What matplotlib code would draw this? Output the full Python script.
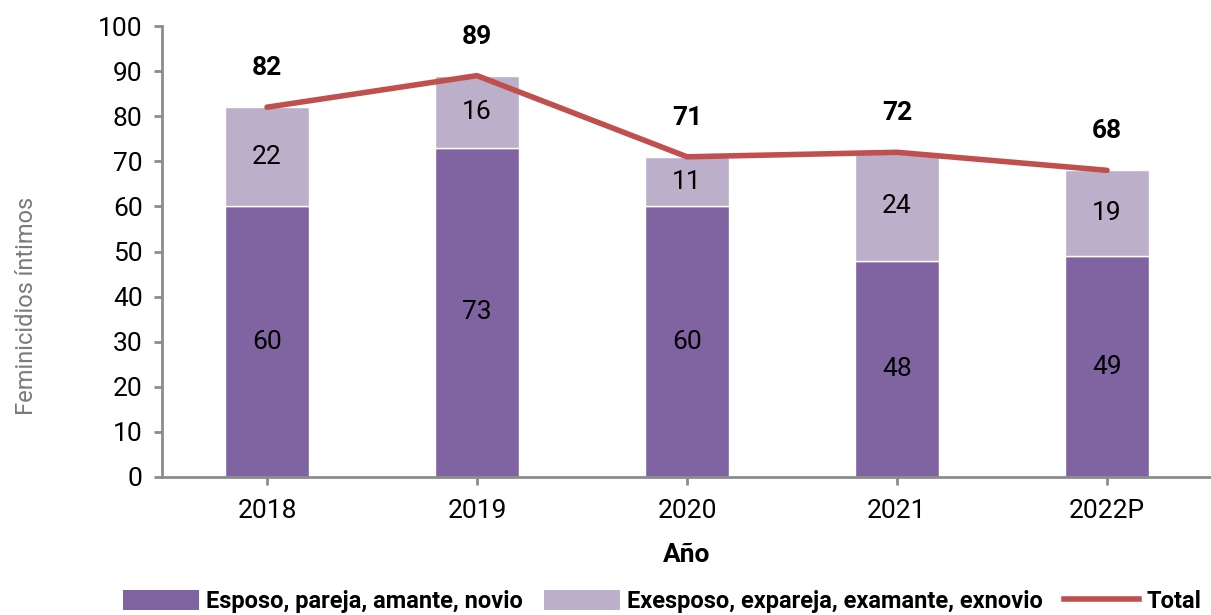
import numpy as np
import matplotlib.pyplot as plt
from matplotlib.patches import Patch
from matplotlib.lines import Line2D

plt.rcParams['font.family'] = ['Roboto', 'DejaVu Sans']

years = ['2018', '2019', '2020', '2021', '2022P']
pareja = [60, 73, 60, 48, 49]
expareja = [22, 16, 11, 24, 19]
total = [82, 89, 71, 72, 68]

dark = '#8064A2'
light = '#BBAFCA'
red = '#C0504D'
grey = '#8C8C8C'

fig = plt.figure(figsize=(12.11, 6.15), dpi=100)
ax = fig.add_axes([0.1338, 0.2244, 0.867, 0.7333])

x = np.arange(len(years))
ax.bar(x, pareja, width=0.4, color=dark, edgecolor='white', linewidth=1)
ax.bar(x, expareja, width=0.4, bottom=pareja, color=light, edgecolor='white', linewidth=1)
ax.plot(x, total, color=red, linewidth=4, solid_capstyle='round', zorder=3)

# etiquetas de valores
for i in range(len(years)):
    ax.text(x[i], pareja[i] / 2, str(pareja[i]), ha='center', va='center', fontsize=19)
    ax.text(x[i], pareja[i] + expareja[i] / 2, str(expareja[i]), ha='center', va='center', fontsize=19)
    ax.annotate(str(total[i]), (x[i], total[i]), xytext=(0, 28), textcoords='offset points',
                ha='center', va='center', fontsize=19, fontweight='bold')

ax.set_xlim(-0.5, 4.5)
ax.set_ylim(0, 100)
ax.set_yticks(range(0, 101, 10))
ax.set_xticks(x)
ax.set_xticklabels(years)
ax.tick_params(axis='both', labelsize=19, color=grey, width=2, length=6)
ax.tick_params(axis='x', pad=10)
ax.tick_params(axis='y', pad=8)

for s in ['top', 'right']:
    ax.spines[s].set_visible(False)
for s in ['left', 'bottom']:
    ax.spines[s].set_color(grey)
    ax.spines[s].set_linewidth(2)

ax.set_ylabel('Feminicidios íntimos', fontsize=17, color='#7A7A7A')
ax.yaxis.set_label_coords(-0.118, 0.38)
ax.set_xlabel('Año', fontsize=19, fontweight='bold', labelpad=14)

handles = [Patch(facecolor=dark), Patch(facecolor=light), Line2D([0], [0], color=red, linewidth=4)]
labels = ['Esposo, pareja, amante, novio', 'Exesposo, expareja, examante, exnovio', 'Total']
fig.legend(handles, labels, loc='center', bbox_to_anchor=(0.547, 0.022), ncol=3, frameon=False,
           prop={'size': 17, 'weight': 'bold'}, handlelength=3.2, handleheight=0.9, handletextpad=0.3,
           columnspacing=0.9)

fig.savefig('out.png', dpi=100)
